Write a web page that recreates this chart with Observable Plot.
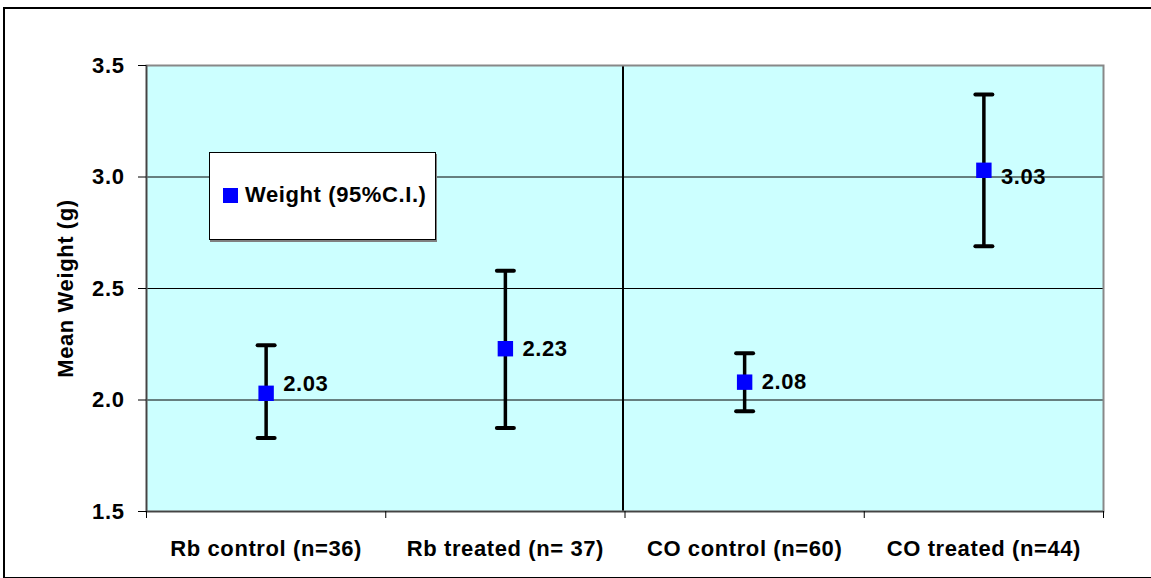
<!DOCTYPE html>
<html>
<head>
<meta charset="utf-8">
<script src="https://cdn.jsdelivr.net/npm/d3@7"></script>
<script src="https://cdn.jsdelivr.net/npm/@observablehq/plot@0.6"></script>
<style>
  body { margin: 0; background: #fff; }
  #wrap { position: relative; width: 1151px; height: 578px; overflow: hidden; font-family: "Liberation Sans", Arial, sans-serif; }
  #outer { position: absolute; left: 3px; top: 7px; width: 1146px; height: 568px; border: 2px solid #000; pointer-events: none; }
  #legend { position: absolute; left: 209px; top: 152px; width: 225px; height: 86px; background: #fff; border: 1px solid #000; box-shadow: 1px 2px 0 #808080; }
  #legend .sw { position: absolute; left: 13px; top: 35px; width: 15px; height: 15px; background: #0000FF; }
  #legend .lt { position: absolute; left: 35px; top: 30px; font-size: 22px; font-weight: bold; letter-spacing: 0.6px; line-height: 24px; white-space: nowrap; }
  svg { position: absolute; left: 0; top: 0; }
</style>
</head>
<body>
<div id="wrap">
  <div id="chart"></div>
  <div id="legend"><div class="sw"></div><div class="lt"></div></div>
  <div id="outer"></div>
</div>
<script>
const categories = ["Rb control (n=36)", "Rb treated (n= 37)", "CO control (n=60)", "CO treated (n=44)"];
const means = [2.03, 2.23, 2.08, 3.03];
const lower = [1.83, 1.875, 1.95, 2.69];
const upper = [2.245, 2.58, 2.21, 3.37];
const yTicks = [1.5, 2.0, 2.5, 3.0, 3.5];
const gridValues = [2.0, 2.5, 3.0];
const groupDivider = [2];
const seriesName = "Weight (95%C.I.)";
const yLabel = "Mean Weight (g)";

const rows = categories.map((c, i) => ({pos: i + 0.5, cat: c, mean: means[i], lo: lower[i], hi: upper[i]}));

document.querySelector("#legend .lt").textContent = seriesName;

const cap = {draw(ctx) { ctx.moveTo(-8.5, 0); ctx.lineTo(8.5, 0); }};
const fmt = d3.format(".2f");
// small manual nudges of the data labels, as in the original chart
const labelNudge = (i) => (i === 0 ? -9 : i === 3 ? 7 : 0);
const labelMarks = rows.map((d, i) => Plot.text([d], {
  x: "pos", y: "mean", text: r => fmt(r.mean), textAnchor: "start",
  dx: 17, dy: labelNudge(i), fontSize: 22, fontWeight: "bold"
}));

const chart = Plot.plot({
  width: 1151,
  height: 578,
  marginLeft: 146,
  marginRight: 48,
  marginTop: 65,
  marginBottom: 67,
  style: "font-family: 'Liberation Sans', Arial, sans-serif; font-size: 22px; font-weight: bold; letter-spacing: 0.6px; color: #000; background: transparent; overflow: visible;",
  x: {domain: [0, 4]},
  y: {domain: [1.5, 3.5]},
  marks: [
    Plot.frame({fill: "#CCFFFF", stroke: null}),
    Plot.ruleY(gridValues, {stroke: "#000", strokeWidth: 1}),
    Plot.ruleX(groupDivider, {stroke: "#000", strokeWidth: 2, dx: -2}),
    Plot.frame({stroke: "#888", strokeWidth: 2}),
    Plot.ruleX([0], {stroke: "#444", strokeWidth: 1.5}),
    Plot.ruleY([1.5], {stroke: "#444", strokeWidth: 1.5}),
    Plot.axisY({ticks: yTicks, tickFormat: d3.format(".1f"), tickSize: 8, tickPadding: 14, label: null, fontSize: 22}),
    Plot.axisX({ticks: [0, 1, 2, 3, 4], tickFormat: () => "", tickSize: 7, label: null}),
    Plot.axisX({ticks: rows.map(d => d.pos), tickFormat: d => categories[Math.floor(d)], tickSize: 0, tickPadding: 29, label: null, fontSize: 22}),
    Plot.text([yLabel], {frameAnchor: "left", text: d => d, rotate: -90, textAnchor: "middle", dx: -81, fontSize: 22, fontWeight: "bold"}),
    Plot.ruleX(rows, {x: "pos", y1: "lo", y2: "hi", stroke: "#000", strokeWidth: 3.5}),
    Plot.dot(rows, {x: "pos", y: "lo", symbol: cap, stroke: "#000", strokeWidth: 4, strokeLinecap: "round", fill: "none"}),
    Plot.dot(rows, {x: "pos", y: "hi", symbol: cap, stroke: "#000", strokeWidth: 4, strokeLinecap: "round", fill: "none"}),
    Plot.dot(rows, {x: "pos", y: "mean", symbol: "square", fill: "#0000FF", r: 8.7}),
    ...labelMarks
  ]
});
document.getElementById("chart").appendChild(chart);
</script>
</body>
</html>
